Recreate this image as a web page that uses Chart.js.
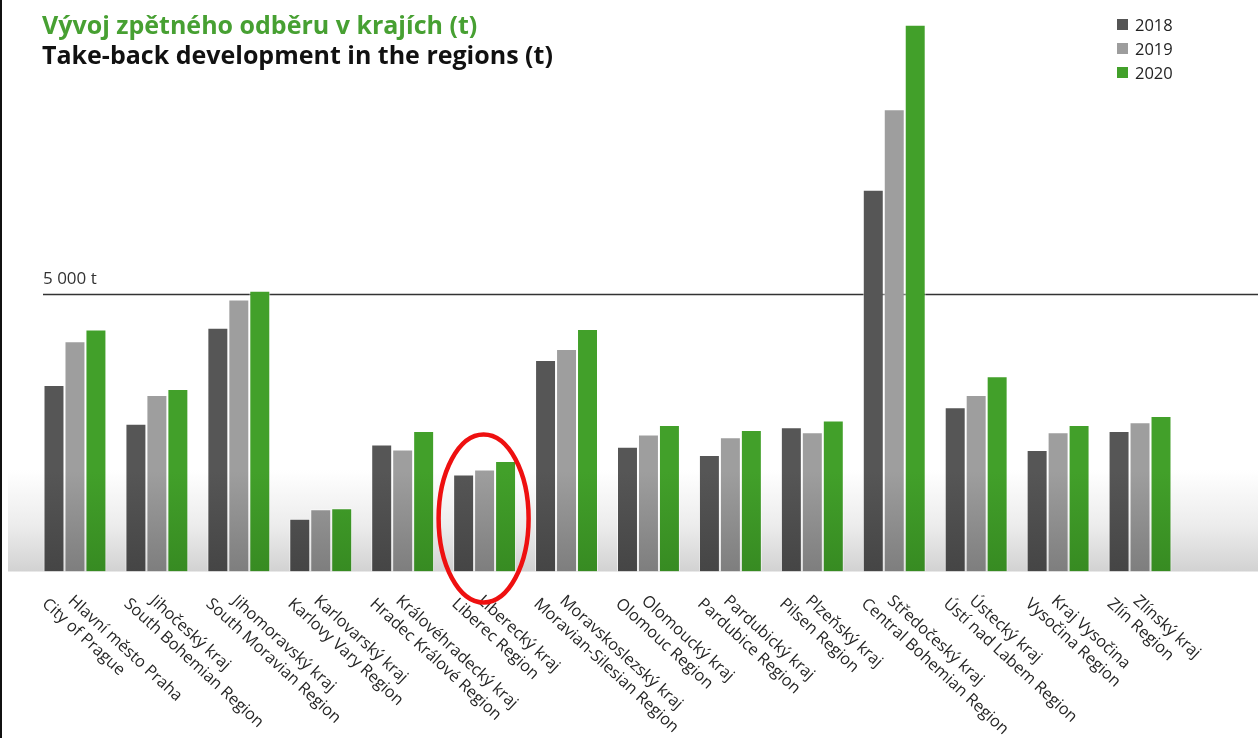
<!DOCTYPE html>
<html>
<head>
<meta charset="utf-8">
<script src="https://cdn.jsdelivr.net/npm/chart.js@4.4.1/dist/chart.umd.min.js"></script>
<style>
  html, body { margin: 0; padding: 0; background: #fff; }
  #chart { display: block; }
</style>
</head>
<body>
<canvas id="chart" width="1258" height="738"></canvas>
<script>
// data (tonnes)
const regionsCz = ['Hlavní město Praha', 'Jihočeský kraj', 'Jihomoravský kraj', 'Karlovarský kraj',
  'Královéhradecký kraj', 'Liberecký kraj', 'Moravskoslezský kraj', 'Olomoucký kraj',
  'Pardubický kraj', 'Plzeňský kraj', 'Středočeský kraj', 'Ústecký kraj', 'Kraj Vysočina', 'Zlínský kraj'];
const regionsEn = ['City of Prague', 'South Bohemian Region', 'South Moravian Region', 'Karlovy Vary Region',
  'Hradec Králové Region', 'Liberec Region', 'Moravian-Silesian Region', 'Olomouc Region',
  'Pardubice Region', 'Pilsen Region', 'Central Bohemian Region', 'Ústí nad Labem Region', 'Vysočina Region', 'Zlín Region'];
const years = ['2018', '2019', '2020'];
const t2018 = [3360, 2660, 4390, 950, 2290, 1750, 3810, 2250, 2100, 2600, 6880, 2960, 2190, 2530];
const t2019 = [4150, 3180, 4900, 1120, 2200, 1840, 4010, 2470, 2420, 2510, 8330, 3180, 2510, 2690];
const t2020 = [4360, 3290, 5060, 1140, 2530, 1990, 4370, 2640, 2550, 2720, 9850, 3520, 2640, 2800];
const yTicks = [5000];
const highlighted = 5; // Liberecký kraj, circled in red

const titleCz = 'Vývoj zpětného odběru v krajích (t)';
const titleEn = 'Take-back development in the regions (t)';

const colTop = ['#565656', '#9e9e9e', '#42a02a'];
const colBottom = ['#454545', '#7e7e7e', '#378b22'];
const legendCol = ['#555555', '#9d9d9d', '#42a02a'];

function barFill(i) {
  return function (c) {
    const a = c.chart.chartArea;
    if (!a) return colTop[i];
    const g = c.chart.ctx.createLinearGradient(0, a.top, 0, a.bottom);
    g.addColorStop(0, colTop[i]);
    g.addColorStop(0.82, colTop[i]);
    g.addColorStop(1, colBottom[i]);
    return g;
  };
}

// background shading, 5000 t line, left border
const backdrop = {
  id: 'backdrop',
  beforeDatasetsDraw(chart) {
    const c = chart.ctx, a = chart.chartArea, y = chart.scales.y;
    c.save();
    const g = c.createLinearGradient(0, 470, 0, a.bottom);
    g.addColorStop(0, 'rgba(255,255,255,1)');
    g.addColorStop(0.55, '#ececec');
    g.addColorStop(1, '#d2d2d2');
    c.fillStyle = g;
    c.fillRect(8, 470, chart.width - 8, a.bottom - 470);

    c.fillStyle = '#111';
    c.fillRect(0, 0, 2, chart.height);

    yTicks.forEach(v => {
      const py = Math.round(y.getPixelForValue(v)) + 0.5;
      c.strokeStyle = '#333';
      c.lineWidth = 1.3;
      c.beginPath();
      c.moveTo(43, py);
      c.lineTo(chart.width, py);
      c.stroke();
      c.fillStyle = '#333';
      c.font = '17px "Open Sans"';
      c.textBaseline = 'alphabetic';
      c.textAlign = 'left';
      c.fillText(v.toLocaleString('cs-CZ').replace(/\s/g, ' ') + ' t', 43, py - 11);
    });
    c.restore();
  }
};

// titles, legend, rotated category labels, red ring
const decor = {
  id: 'decor',
  afterDraw(chart) {
    const c = chart.ctx, a = chart.chartArea, x = chart.scales.x;
    c.save();
    c.textAlign = 'left';
    c.textBaseline = 'alphabetic';
    c.font = 'bold 25px "Open Sans"';
    c.fillStyle = '#47a032';
    c.fillText(titleCz, 42, 34);
    c.fillStyle = '#111';
    c.fillText(titleEn, 42, 64);

    c.font = '16.5px "Open Sans"';
    years.forEach((yr, i) => {
      c.fillStyle = legendCol[i];
      c.fillRect(1117, 19 + i * 24, 11, 11);
      c.fillStyle = '#222';
      c.fillText(yr, 1135, 31 + i * 24);
    });

    c.font = '16.3px "Open Sans"';
    c.fillStyle = '#262626';
    c.textBaseline = 'top';
    const ang = 42.5 * Math.PI / 180;
    regionsCz.forEach((name, i) => {
      const cx = x.getPixelForValue(i);
      c.save();
      c.translate(cx + 1, a.bottom + 21);
      c.rotate(ang);
      c.fillText(name, 0, 0);
      c.restore();
      c.save();
      c.translate(cx - 25, a.bottom + 24);
      c.rotate(ang);
      c.fillText(regionsEn[i], 0, 0);
      c.restore();
    });

    const hx = x.getPixelForValue(highlighted);
    c.strokeStyle = '#ee1010';
    c.lineWidth = 4.5;
    c.beginPath();
    c.ellipse(hx - 1, a.bottom - 53, 45, 84, 0, 0, Math.PI * 2);
    c.stroke();
    c.restore();
  }
};

new Chart(document.getElementById('chart'), {
  type: 'bar',
  data: {
    labels: regionsCz,
    datasets: [t2018, t2019, t2020].map((d, i) => ({
      label: years[i],
      data: d,
      backgroundColor: barFill(i),
      borderColor: 'rgba(255,255,255,0.6)',
      borderWidth: 1,
      borderSkipped: 'bottom',
      barPercentage: 1,
      categoryPercentage: 0.768
    }))
  },
  options: {
    responsive: false,
    animation: false,
    devicePixelRatio: 1,
    layout: { padding: { left: 34, right: 77, top: 16.5, bottom: 166.5 } },
    scales: {
      x: { display: false },
      y: { display: false, min: 0, max: 10000 }
    },
    plugins: {
      legend: { display: false },
      title: { display: false },
      tooltip: { enabled: false }
    }
  },
  plugins: [backdrop, decor]
});
</script>
</body>
</html>
